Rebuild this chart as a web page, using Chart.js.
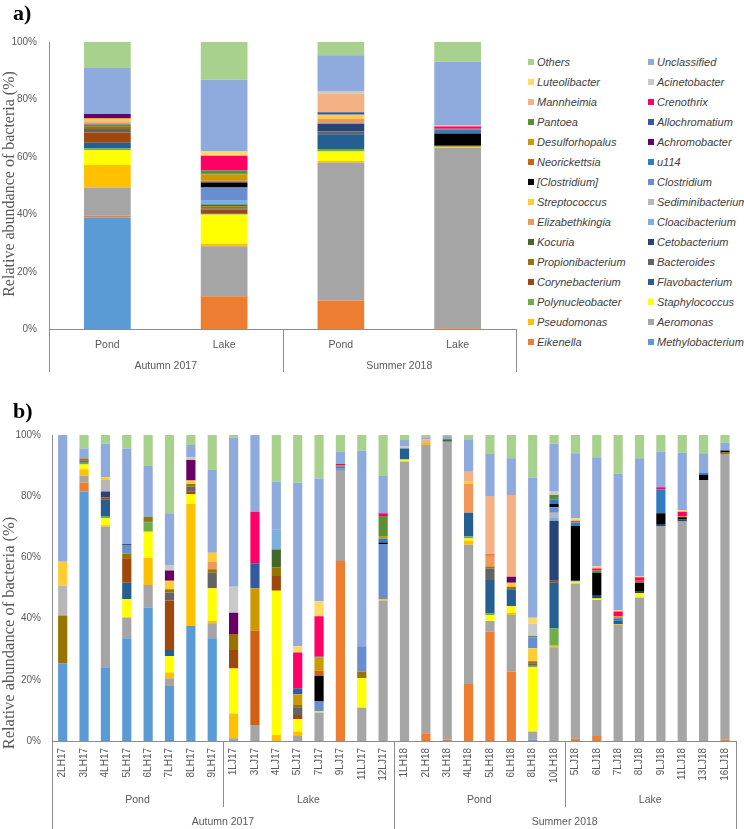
<!DOCTYPE html>
<html>
<head>
<meta charset="utf-8">
<title>Relative abundance of bacteria</title>
<script src="https://cdn.jsdelivr.net/npm/chart.js@4.4.0/dist/chart.umd.min.js"></script>
<style>
  body { margin: 0; background: #fff; }
  #wrap { position: relative; width: 744px; height: 829px; overflow: hidden; }
  #wrap canvas { position: absolute; left: 0; }
  #legend { position: absolute; left: 0; top: 0; }
  .lg-item { position: absolute; font: italic 11px "Liberation Sans", Arial, sans-serif; color: #404040; white-space: nowrap; line-height: 14px; }
  .lg-box { position: absolute; width: 6px; height: 6px; left: -9px; top: 4px; }
</style>
</head>
<body>
<div id="wrap">
  <canvas id="chartA" width="520" height="380" style="top:0"></canvas>
  <canvas id="chartB" width="744" height="439" style="top:390px"></canvas>
  <div id="legend"></div>
</div>
<script>
// stack order, bottom to top (legend reads the reverse, row by row)
const taxa = [
    'Methylobacterium', 'Eikenella', 'Aeromonas', 'Pseudomonas', 'Staphylococcus',
    'Polynucleobacter', 'Flavobacterium', 'Corynebacterium', 'Bacteroides', 'Propionibacterium',
    'Cetobacterium', 'Kocuria', 'Cloacibacterium', 'Elizabethkingia', 'Sediminibacterium',
    'Streptococcus', 'Clostridium', '[Clostridium]', 'u114', 'Neorickettsia',
    'Achromobacter', 'Desulforhopalus', 'Allochromatium', 'Pantoea', 'Crenothrix',
    'Mannheimia', 'Acinetobacter', 'Luteolibacter', 'Unclassified', 'Others'
];
const taxonColors = [
    '#5b9bd5', '#ed7d31', '#a5a5a5', '#ffc000', '#ffff00',
    '#70ad47', '#255e91', '#9e480e', '#636363', '#997300',
    '#264478', '#43682b', '#7cafdd', '#f1975a', '#b7b7b7',
    '#ffcd33', '#698ed0', '#000000', '#327dc2', '#d26012',
    '#660066', '#cc9a00', '#335aa1', '#5a8f36', '#ff0066',
    '#f4b183', '#c9c9c9', '#ffd966', '#8faadc', '#a9d18e'
];

// panel a) categories
const sitesA = ['Pond', 'Lake', 'Pond', 'Lake'];
const seasonsA = [['Autumn 2017', 2], ['Summer 2018', 2]];

// panel b) categories
const samplesB = [
    '2LH17', '3LH17', '4LH17', '5LH17', '6LH17', '7LH17', '8LH17', '9LH17',
    '1LJ17', '3LJ17', '4LJ17', '5LJ17', '7LJ17', '9LJ17', '11LJ17', '12LJ17',
    '1LH18', '2LH18', '3LH18', '4LH18', '5LH18', '6LH18', '8LH18', '10LH18',
    '5LJ18', '6LJ18', '7LJ18', '8LJ18', '9LJ18', '11LJ18', '13LJ18', '16LJ18'
];
const sitesB = [['Pond', 8], ['Lake', 8], ['Pond', 8], ['Lake', 8]];
const seasonsB = [['Autumn 2017', 16], ['Summer 2018', 16]];

const yTicks = [0, 20, 40, 60, 80, 100];

// panel a) values (%), Pond/Lake Autumn 2017, Pond/Lake Summer 2018
const aMethylobacterium = [39.0, 0, 0, 0];
const aEikenella = [0.6, 11.6, 10.1, 0.4];
const aAeromonas = [9.8, 17.4, 48.0, 62.7];
const aPseudomonas = [7.8, 0.8, 0.5, 0.3];
const aStaphylococcus = [5.2, 10.2, 3.3, 0.2];
const aPolynucleobacter = [0.6, 0, 0.9, 0];
const aFlavobacterium = [2.0, 0.3, 5.1, 0];
const aCorynebacterium = [3.5, 1.4, 0, 0];
const aBacteroides = [1.2, 0.5, 1.0, 0.3];
const aPropionibacterium = [1.0, 0.6, 0, 0];
const aCetobacterium = [0.3, 0, 2.7, 0];
const aKocuria = [0.3, 0.7, 0, 0];
const aCloacibacterium = [0.2, 1.3, 0.2, 0];
const aElizabethkingia = [0.6, 0, 1.5, 0];
const aSediminibacterium = [0.3, 0, 0, 0];
const aStreptococcus = [0.9, 0, 1.2, 0];
const aClostridium = [0, 4.6, 0.3, 0];
const aClostridiumBr = [0, 1.7, 0, 4.3];
const aU114 = [0, 0.3, 0, 1.4];
const aNeorickettsia = [0.2, 0.3, 0, 0.2];
const aAchromobacter = [1.5, 0, 0, 0];
const aDesulforhopalus = [0, 2.3, 0, 0];
const aAllochromatium = [0, 0.2, 0.8, 0];
const aPantoea = [0, 1.2, 0, 0];
const aCrenothrix = [0, 5.0, 0, 0.8];
const aMannheimia = [0, 0, 6.4, 0.4];
const aAcinetobacter = [0, 0, 1.0, 0];
const aLuteolibacter = [0, 1.5, 0, 0];
const aUnclassified = [16.0, 25.0, 12.4, 22.1];
const aOthers = [9.0, 13.1, 4.6, 6.9];

// panel b) values (%), one per sample
const bMethylobacterium = [25.4,81.5,24.1,33.6,43.6,18.0,37.6,33.6, 0,0,0,0,0,0,0,0, 0,0,0,0,0,0,0.5,0, 0,0,0,0,0,0,0,0];
const bEikenella = [0,3.0,0,0,0,0,0,0, 0,0,0,0,0,58.8,0,0, 0,2.5,0.5,18.6,35.7,22.7,0,0, 0.7,1.6,0,0,0,0,0,0.5];
const bAeromonas = [0,2.2,45.9,6.8,7.4,2.5,0,4.9, 0.9,5.2,0,1.6,9.3,29.8,10.9,45.8, 91.3,94.2,97.3,45.5,3.5,18.5,2.6,30.6, 50.8,44.5,37.9,46.9,70.3,71.7,85.3,93.3];
const bPseudomonas = [0,2.1,0.5,0,8.9,1.9,39.9,0.8, 8.1,0,2.0,1.5,0,0,0,0.5, 0,0.4,0,1.4,0,0.7,0,0.5, 0,0,0.3,0,0,0,0,0];
const bStaphylococcus = [0,1.6,2.3,5.9,8.5,5.4,3.1,10.6, 14.7,0,47.1,4.0,0.3,0,9.6,0, 0.7,0,0,0.7,2.0,2.2,21.0,0, 0.6,0.5,0,1.4,0,0,0,0];
const bPolynucleobacter = [0,0.5,0.7,0,3.0,0,0,0, 0,0,0,0,0,0,0,0, 0,0,0,0.6,0.5,0,0.5,5.7, 0,0,0,0,0,0,0,0];
const bFlavobacterium = [0,0,5.3,5.4,0,1.9,0,0, 0,0,0,0,0,0,0,0, 3.6,0,0,7.8,10.9,5.5,0,14.9, 0,0,1.1,0,0,0,0,0];
const bCorynebacterium = [0,0,0.8,8.0,0,16.2,1.0,0, 6.0,0,4.8,1.4,0,0,0,0, 0,0,0,0,0,0,0,0.7, 0,0,0,0,0,0,0,0];
const bBacteroides = [0,0.8,0,0,0.4,2.6,1.5,5.1, 0,0,0,2.5,0,0,0,0, 0,0,0,0,3.8,0,0.8,0, 0,0,0,0,0,0,0,0];
const bPropionibacterium = [15.6,0.6,0,1.6,1.4,1.1,0.9,1.1, 5.3,0,2.9,0.8,0,0,2.2,0, 0,0,0,0,0.6,0.8,0.7,0, 0,0,0,0,0,0,0,0.5];
const bCetobacterium = [0,0,1.9,0,0,0,0,0, 0,0,0,0,0,0,0,0, 0,0,0,0,0,0,0,19.6, 0.5,1.1,0,0.5,0.6,0.7,0,0];
const bKocuria = [0,0,0,0,0,0,0,0, 0,0,5.8,0,0,0,0,0, 0,0,0.8,0,0,0,0,0, 0,0,0,0,0,0,0,0];
const bCloacibacterium = [0,0,0,0,0,0,0,0, 0,0,6.4,0,0,0,0,0, 0,0,0,0,0,0,0,1.1, 0,0,0,0,0,0,0,0];
const bElizabethkingia = [0,0,0,0,0,0,0,2.5, 0,0,0,0,0,0,0,0, 0,0,0,9.4,3.5,0,0,0, 0,0,0,0,0,0,0,0];
const bSediminibacterium = [9.8,0,3.8,0,0,0,0,0, 0,0,0,0,0,0,0,0, 0,0,0,0,0,0,0,1.5, 0,0,0,0,0,0,0,0];
const bStreptococcus = [7.8,0,0.9,0,0,2.8,1.1,2.9, 0,0,0,0,0,0,0,0, 0,0,0,0.7,0,1.3,4.2,0, 0,0,0,0,0,0,0,0];
const bClostridium = [0,0,0,2.8,0,0,0,0, 0,0,0,0,3.3,0.5,8.3,18.1, 0,0,0,0,0,0,3.6,1.8, 0,0,0,0,0,0,0,0];
const bClostridiumBr = [0,0,0,0.3,0,0,0,0, 0,0,0,0,8.4,0,0,0.5, 0,0,0,0,0,0,0,1.1, 17.7,7.3,0,2.9,3.5,0.7,1.6,0.6];
const bU114 = [0,0,0,0,0,0,0,0, 0,0,0,0,0,0.6,0,1.3, 0,0,0,0,0,0,0,1.5, 1.1,0,0.8,0,7.8,0,0.8,0];
const bNeorickettsia = [0,0,0,0,0,0,0,0, 0,30.9,0,0,1.7,0.4,0,0, 0,0,0,0,0.5,0,0,0, 0.5,0,0,0.7,0,0,0,0];
const bAchromobacter = [0,0,0,0,0,3.3,6.7,0, 6.9,0,0,0,0,0,0,0, 0,0,0,0,0,2.0,0,0, 0,0,0,0,0,0,0,0];
const bDesulforhopalus = [0,0,0,0,0,0,0,0, 0,13.8,0,3.5,4.3,0,0,0.8, 0,0.4,0,0,0,0,0,0, 0,0,0.7,0,0,0.4,0,0];
const bAllochromatium = [0,0,0,0,0,0,0,0, 0,8.2,0,1.9,0.3,0,0,0, 0,0,0,0,0,0,0,0, 0,0,0,0,0,0,0,0];
const bPantoea = [0,0,0,0,0,0,0,0, 0,0,0,0,0,0,0,6.5, 0,0,0,0,0,0,0.4,1.4, 0,0.7,0,0,0,0,0,0];
const bCrenothrix = [0,0,0,0,0,0,0,0, 0,16.8,0,11.7,13.2,0.4,0,0.9, 0,0,0,0,0,0,0,0, 0,0.7,1.5,1.1,0.7,1.4,0,0];
const bMannheimia = [0,0,0,0,0,0,0,0, 0,0,0,0,0,0,0,0, 0,1.1,0,3.3,19.1,26.7,0,0, 0.3,0.4,0,0,0,0,0,0];
const bAcinetobacter = [0,0,0,0,0,1.8,0.9,0, 8.5,0,0,0,0,0,0,0, 0.8,0,0,0,0,0,4.1,1.1, 0,0,0,0,0,0,0,0];
const bLuteolibacter = [0,0,0,0,0,0,0,0, 0,0,0,2.1,4.9,0,0,0, 0,0,0,0,0,0,1.9,0, 0.5,0.4,0.5,0.4,0,0.6,0,0];
const bUnclassified = [41.4,3.3,10.9,31.2,16.7,16.9,4.0,27.1, 48.8,25.1,15.7,53.4,40.1,4.1,63.9,12.2, 2.0,0.7,1.1,10.6,13.7,12.0,45.8,15.6, 21.3,35.5,44.5,38.5,11.7,18.7,6.1,2.6];
const bOthers = [0,4.4,2.9,4.4,10.1,25.6,3.3,11.4, 0.8,0,15.3,15.6,14.2,5.4,5.1,13.4, 1.6,0.7,0.3,1.4,6.2,7.6,13.9,2.9, 6.0,7.3,12.7,7.6,5.4,5.8,6.2,2.5];

const panelA = [
    aMethylobacterium, aEikenella, aAeromonas, aPseudomonas, aStaphylococcus,
    aPolynucleobacter, aFlavobacterium, aCorynebacterium, aBacteroides, aPropionibacterium,
    aCetobacterium, aKocuria, aCloacibacterium, aElizabethkingia, aSediminibacterium,
    aStreptococcus, aClostridium, aClostridiumBr, aU114, aNeorickettsia,
    aAchromobacter, aDesulforhopalus, aAllochromatium, aPantoea, aCrenothrix,
    aMannheimia, aAcinetobacter, aLuteolibacter, aUnclassified, aOthers
];
const panelB = [
    bMethylobacterium, bEikenella, bAeromonas, bPseudomonas, bStaphylococcus,
    bPolynucleobacter, bFlavobacterium, bCorynebacterium, bBacteroides, bPropionibacterium,
    bCetobacterium, bKocuria, bCloacibacterium, bElizabethkingia, bSediminibacterium,
    bStreptococcus, bClostridium, bClostridiumBr, bU114, bNeorickettsia,
    bAchromobacter, bDesulforhopalus, bAllochromatium, bPantoea, bCrenothrix,
    bMannheimia, bAcinetobacter, bLuteolibacter, bUnclassified, bOthers
];

const AXIS = '#8c8c8c';
const TEXT = '#595959';
const SANS = '"Liberation Sans", Arial, sans-serif';
const SERIF = '"Liberation Serif", "Times New Roman", serif';

// draws the grouped category rows, separators, axis title and panel tag
const groupAxisPlugin = {
    id: 'groupAxis',
    afterDraw(chart, args, opts) {
        const { ctx, chartArea } = chart;
        const n = chart.data.labels.length;
        const step = (chartArea.right - chartArea.left) / n;
        const xAt = (i) => chartArea.left + i * step;

        ctx.save();
        ctx.strokeStyle = AXIS;
        ctx.lineWidth = 1;
        opts.rows.forEach(row => {
            let idx = 0;
            const edges = [0];
            row.groups.forEach(([, count]) => { idx += count; edges.push(idx); });
            edges.forEach(e => {
                if (row.skipEdges && (e === 0 || e === n)) return;
                const px = Math.round(xAt(e)) + 0.5;
                ctx.beginPath();
                ctx.moveTo(px, chartArea.bottom);
                ctx.lineTo(px, row.lineBottom);
                ctx.stroke();
            });

            ctx.fillStyle = TEXT;
            ctx.font = '10.5px ' + SANS;
            ctx.textAlign = 'center';
            ctx.textBaseline = 'middle';
            let start = 0;
            row.groups.forEach(([label, count]) => {
                ctx.fillText(label, xAt(start + count / 2), row.textY);
                start += count;
            });
        });

        // y axis title
        ctx.translate(opts.titleX, opts.titleY);
        ctx.rotate(-Math.PI / 2);
        ctx.fillStyle = TEXT;
        ctx.font = opts.titleSize + 'px ' + SERIF;
        ctx.textAlign = 'center';
        ctx.textBaseline = 'middle';
        ctx.fillText('Relative abundance of bacteria (%)', 0, 0);
        ctx.restore();

        // panel tag
        ctx.save();
        ctx.fillStyle = '#000';
        ctx.font = 'bold 22px ' + SERIF;
        ctx.textAlign = 'left';
        ctx.textBaseline = 'alphabetic';
        ctx.fillText(opts.tag, 13, opts.tagY);
        ctx.restore();
    }
};

function makeDatasets(values, barPct) {
    return taxa.map((name, i) => ({
        label: name,
        data: values[i],
        backgroundColor: taxonColors[i],
        borderWidth: 0,
        categoryPercentage: 1,
        barPercentage: barPct
    }));
}

function yScale(width, padding) {
    return {
        stacked: true,
        min: 0,
        max: 100,
        afterBuildTicks: (s) => { s.ticks = yTicks.map(v => ({ value: v })); },
        afterFit: (s) => { s.width = width; },
        grid: { display: false, drawTicks: false },
        border: { color: AXIS },
        ticks: {
            padding: padding,
            color: TEXT,
            font: { family: SANS, size: 10 },
            callback: (v) => v + '%'
        }
    };
}

new Chart(document.getElementById('chartA'), {
    type: 'bar',
    data: { labels: sitesA, datasets: makeDatasets(panelA, 0.4) },
    options: {
        responsive: false,
        animation: false,
        devicePixelRatio: 1,
        layout: { padding: { top: 42, right: 4, left: 0, bottom: 0 } },
        plugins: {
            legend: { display: false },
            tooltip: { enabled: false },
            groupAxis: {
                tag: 'a)', tagY: 20,
                titleX: 10, titleY: 184, titleSize: 16,
                rows: [{ groups: seasonsA, textY: 366, lineBottom: 372 }]
            }
        },
        scales: {
            x: {
                stacked: true,
                afterFit: (s) => { s.height = 50.5; },
                grid: { display: false, drawTicks: false },
                border: { color: AXIS },
                ticks: { padding: 9, color: TEXT, font: { family: SANS, size: 10.5 } }
            },
            y: yScale(49, 12)
        }
    },
    plugins: [groupAxisPlugin]
});

new Chart(document.getElementById('chartB'), {
    type: 'bar',
    data: { labels: samplesB, datasets: makeDatasets(panelB, 0.43) },
    options: {
        responsive: false,
        animation: false,
        devicePixelRatio: 1,
        layout: { padding: { top: 45, right: 2, left: 0, bottom: 0 } },
        plugins: {
            legend: { display: false },
            tooltip: { enabled: false },
            groupAxis: {
                tag: 'b)', tagY: 28,
                titleX: 10, titleY: 243, titleSize: 16.5,
                rows: [
                    { groups: sitesB, textY: 410, lineBottom: 417, skipEdges: true },
                    { groups: seasonsB, textY: 432, lineBottom: 439 }
                ]
            }
        },
        scales: {
            x: {
                stacked: true,
                afterFit: (s) => { s.height = 88; },
                grid: { display: false, drawTicks: false },
                border: { color: AXIS },
                ticks: {
                    autoSkip: false,
                    minRotation: 90,
                    maxRotation: 90,
                    padding: 7,
                    color: TEXT,
                    font: { family: SANS, size: 10 }
                }
            },
            y: yScale(52, 11)
        }
    },
    plugins: [groupAxisPlugin]
});

// legend for panel a), two columns, reversed stack order read row by row
const legendEl = document.getElementById('legend');
taxa.slice().reverse().forEach((name, k) => {
    const color = taxonColors[taxa.indexOf(name)];
    const col = k % 2;
    const row = Math.floor(k / 2);
    const item = document.createElement('div');
    item.className = 'lg-item';
    item.style.left = (col === 0 ? 537 : 657) + 'px';
    item.style.top = (62 + row * 20.03 - 7) + 'px';
    item.innerHTML = '<span class="lg-box" style="background:' + color + '"></span>' + name;
    legendEl.appendChild(item);
});
</script>
</body>
</html>
